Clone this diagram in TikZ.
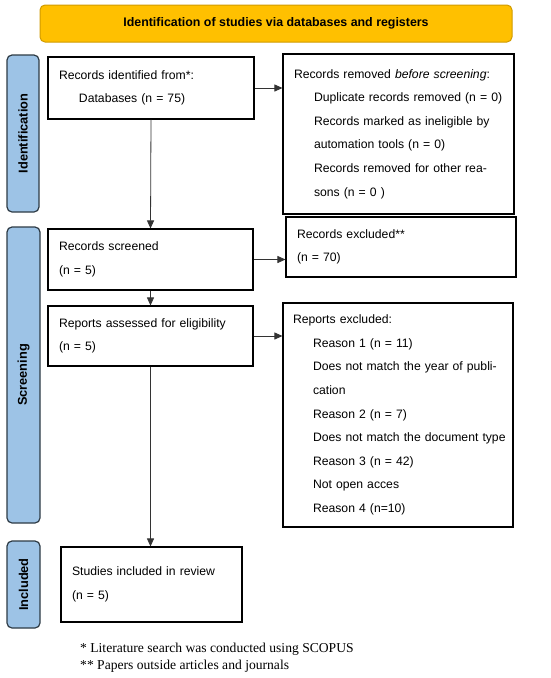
\documentclass[tikz,border=0pt]{standalone}
\usepackage{fontspec}
\setmainfont{Liberation Sans}
\newfontfamily\fnserif{Liberation Serif}
\usetikzlibrary{arrows.meta}
\definecolor{bannerfill}{HTML}{FFC000}
\definecolor{bannerdraw}{HTML}{D09B00}
\definecolor{sidefill}{HTML}{9DC3E6}
\definecolor{sidedraw}{HTML}{2E3B45}
\begin{document}
\begin{tikzpicture}[x=1pt,y=-1pt,
  box/.style={draw, line width=1.1pt, inner xsep=11pt, inner ysep=0pt, align=left,
    font=\fontsize{12.2}{23.6}\selectfont},
  side/.style={draw=sidedraw, fill=sidefill, line width=1.2pt, rounded corners=5pt,
    inner sep=0pt, rotate=90, font=\bfseries\fontsize{12.8}{14}\selectfont},
  arr/.style={-{Triangle[length=8pt,width=7pt]}, line width=0.8pt, draw=black!80},
  foot/.style={anchor=base west, inner sep=0pt, font=\fnserif\fontsize{13.6}{17}\selectfont},
]
\useasboundingbox (0,0) rectangle (550,678);
\fill[white] (0,0) rectangle (550,678);

\node[draw=bannerdraw, fill=bannerfill, rounded corners=5pt, line width=1pt,
  minimum width=472pt, minimum height=37pt, inner sep=0pt,
  font=\bfseries\fontsize{12.4}{14}\selectfont] (banner) at (276,23.5)
  {Identification of studies via databases and registers};

\node[side, minimum width=157pt, minimum height=32pt] (sid) at (23,133.5) {Identification};
\node[side, minimum width=296pt, minimum height=33pt] (ssc) at (23.5,375) {Screening};
\node[side, minimum width=87pt, minimum height=33pt] (sin) at (23.5,584.5) {Included};

\node[box, text width=184pt, minimum height=62pt] (b1) at (151,88)
  {Records identified from*:\\\hspace*{20pt}Databases (n = 75)};

\node[box, text width=209pt, minimum height=160pt] (b2) at (398.5,134)
  {Records removed \textit{before screening}:\\
   \hspace*{20pt}\makebox[189pt][s]{Duplicate records removed (n = 0)}\\
   \hspace*{20pt}\makebox[189pt][s]{Records marked as ineligible by}\\
   \hspace*{20pt}automation tools (n = 0)\\
   \hspace*{20pt}\makebox[189pt][s]{Records removed for other rea-}\\
   \hspace*{20pt}sons (n = 0 )};

\node[box, text width=183pt, minimum height=61pt] (b3) at (150.5,259.5)
  {Records screened\\(n = 5)};

\node[box, text width=208pt, minimum height=60pt] (b4) at (401,247)
  {Records excluded**\\(n = 70)};

\node[box, text width=183pt, minimum height=60pt] (b5) at (150.5,336)
  {Reports assessed for eligibility\\(n = 5)};

\node[box, inner xsep=10pt, text width=210pt, minimum height=224pt] (b6) at (398,415)
  {Reports excluded:\\
   \hspace*{20pt}Reason 1 (n = 11)\\
   \hspace*{20pt}\makebox[190pt][s]{Does not match the year of publi-}\\
   \hspace*{20pt}cation\\
   \hspace*{20pt}Reason 2 (n = 7)\\
   \hspace*{20pt}\makebox[190pt][s]{Does not match the document type}\\
   \hspace*{20pt}Reason 3 (n = 42)\\
   \hspace*{20pt}Not open acces\\
   \hspace*{20pt}Reason 4 (n=10)};

\node[box, text width=159pt, minimum height=75pt] (b7) at (151.5,584.5)
  {Studies included in review\\(n = 5)};

\draw[arr] (b1.east) -- (b1.east -| b2.west);
\draw[arr] (b1.south) -- (b3.north);
\draw[arr] (b3.east) -- (b3.east -| b4.west);
\draw[arr] (b3.south) -- (b5.north);
\draw[arr] (b5.east) -- (b5.east -| b6.west);
\draw[arr] (b5.south) -- (b5.south |- b7.north);

\node[foot] (fn1) at (80,652) {* Literature search was conducted using SCOPUS};
\node[foot] (fn2) at (80,669) {** Papers outside articles and journals};
\end{tikzpicture}
\end{document}
